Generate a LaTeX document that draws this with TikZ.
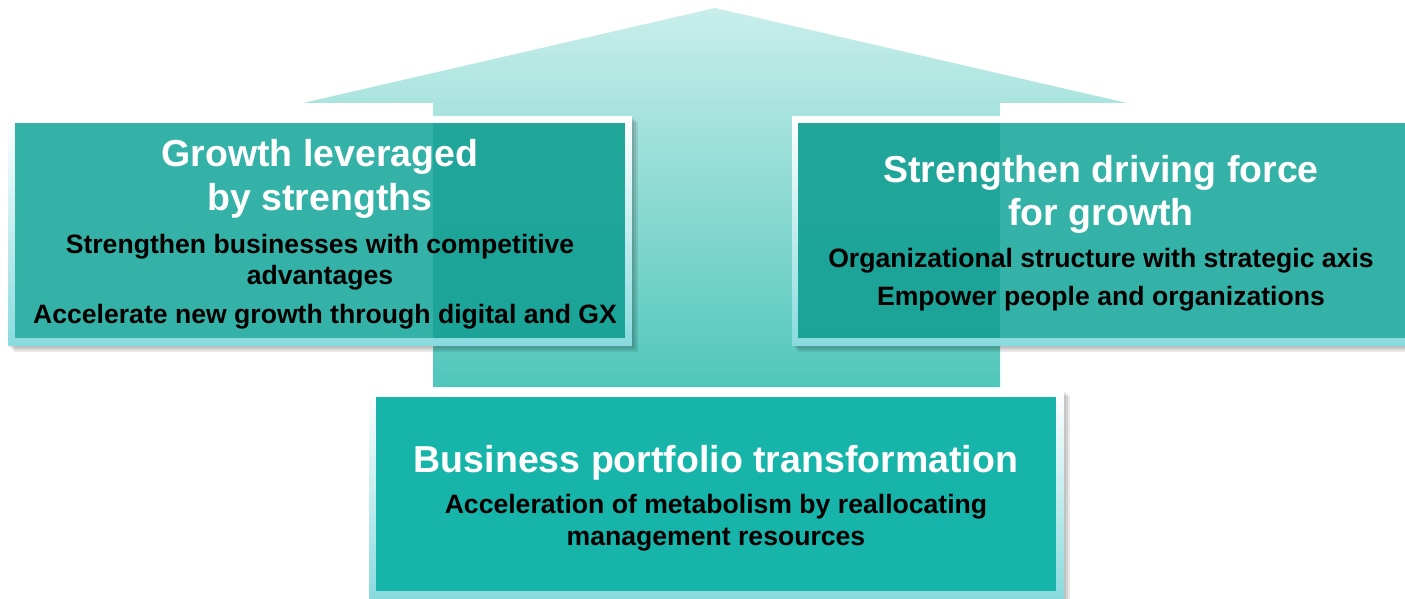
\documentclass[tikz,border=0pt]{standalone}
\usepackage{fontspec}
\setmainfont{Liberation Sans}

\definecolor{arrowtop}{HTML}{C9EEEB}
\definecolor{arrowbot}{HTML}{50C6BB}
\definecolor{panel}{HTML}{14A699}
\definecolor{panelbase}{HTML}{17B4A9}
\definecolor{rim}{HTML}{88DADE}

\tikzset{
  heading/.style={text=white, font=\fontsize{37.5}{44}\selectfont\bfseries, anchor=base, inner sep=0pt},
  item/.style={text=black, font=\fontsize{26.6}{31}\selectfont\bfseries, anchor=base, inner sep=0pt},
  soft/.style={black, opacity=0.09},
  frame/.style={top color=white, bottom color=rim, even odd rule},
}

\begin{document}
\begin{tikzpicture}[x=1pt, y=-1pt]
    % 画布范围
    \useasboundingbox (0,0) rectangle (1405,599);
    \clip (0,0) rectangle (1405,599);

    % 背景大箭头（由浅到深的渐变）
    \shade[top color=arrowtop, bottom color=arrowbot]
        (715,8) -- (1127,103) -- (1000,103) -- (1000,387)
        -- (433,387) -- (433,103) -- (303,103) -- cycle;

    % 左框：阴影、渐变边框、半透明底色（箭头透出）
    \foreach \d in {2,4,6} \fill[soft, shift={(\d,\d)}] (8,116) rectangle (632,346);
    \fill[white] (8,116) rectangle (433,346);
    \shade[frame] (8,116) rectangle (632,346) (15,123) rectangle (625,338);
    \fill[panel, fill opacity=0.86] (15,123) rectangle (625,338);

    % 右框（右侧超出画布）
    \foreach \d in {2,4,6} \fill[soft, shift={(\d,\d)}] (792,116) rectangle (1420,346);
    \fill[white] (1000,116) rectangle (1420,346);
    \shade[frame] (792,116) rectangle (1420,346) (798,123) rectangle (1412,338);
    \fill[panel, fill opacity=0.86] (798,123) rectangle (1420,338);

    % 下框
    \foreach \d in {2,4,6} \fill[soft, shift={(\d,\d)}] (369,390) rectangle (1064,610);
    \shade[top color=white, bottom color=rim] (369,390) rectangle (1064,600);
    \fill[panelbase] (376,397) rectangle (1056,591);

    % 左框文字
    \node[heading] (grow1) at (320,166) {Growth leveraged};
    \node[heading] (grow2) at (320,210) {by strengths};
    \node[item] (grow3) at (320,253) {Strengthen businesses with competitive};
    \node[item] (grow4) at (320,284) {advantages};
    \node[item] (grow5) at (325,323) {Accelerate new growth through digital and GX};

    % 右框文字
    \node[heading] (drive1) at (1101,182) {Strengthen driving force};
    \node[heading] (drive2) at (1101,225) {for growth};
    \node[item] (drive3) at (1101,267) {Organizational structure with strategic axis};
    \node[item] (drive4) at (1101,305) {Empower people and organizations};

    % 下框文字
    \node[heading] (port1) at (716,472) {Business portfolio transformation};
    \node[item] (port2) at (716,513) {Acceleration of metabolism by reallocating};
    \node[item] (port3) at (716,545) {management resources};
\end{tikzpicture}
\end{document}
